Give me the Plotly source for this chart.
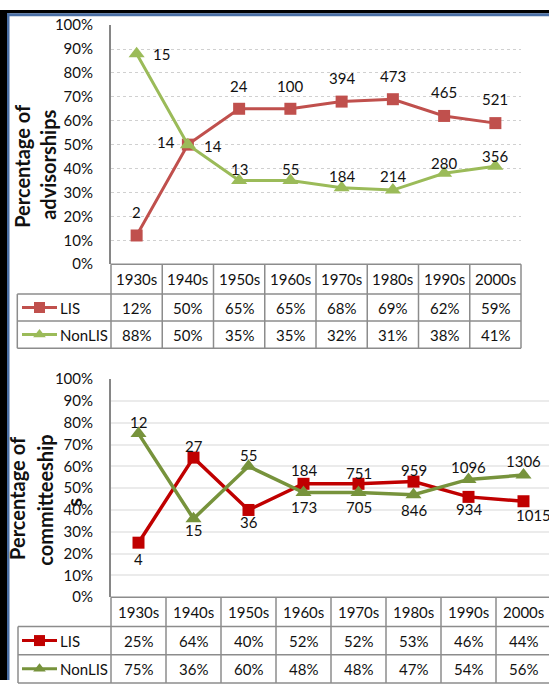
import plotly.graph_objects as go

# ---------------- data ----------------
decades = ["1930s", "1940s", "1950s", "1960s", "1970s", "1980s", "1990s", "2000s"]

adv_lis_pct = [12, 50, 65, 65, 68, 69, 62, 59]
adv_nonlis_pct = [88, 50, 35, 35, 32, 31, 38, 41]
adv_lis_n = [2, 14, 24, 100, 394, 473, 465, 521]
adv_nonlis_n = [15, 14, 13, 55, 184, 214, 280, 356]

com_lis_pct = [25, 64, 40, 52, 52, 53, 46, 44]
com_nonlis_pct = [75, 36, 60, 48, 48, 47, 54, 56]
com_lis_n = [4, 27, 36, 184, 751, 959, 934, 1015]
com_nonlis_n = [12, 15, 55, 173, 705, 846, 1096, 1306]

series_names = ["LIS", "NonLIS"]

# ---------------- style ----------------
W, H = 549, 688
FONT = "Lato"
TXT = "#111111"
GRID_LINE = "#8C8C8C"
TOP_COLORS = ["#C0504D", "#9BBB59"]
BOT_COLORS = ["#C00000", "#77933C"]
FS = 15

# label offsets (xshift, yshift) in px
adv_lis_off = [(0, 23), (-22, 3), (0, 23), (0, 23), (0, 24), (0, 23), (0, 24), (0, 24)]
adv_non_off = [(25, 0), (25, -1), (0, 11), (0, 11), (0, 12), (0, 14), (0, 10), (0, 10)]
com_lis_off = [(0, -16), (0, 12), (0, -12), (0, 14), (0, 11), (0, 12), (0, -12), (10, -14)]
com_non_off = [(0, 12), (0, -11), (0, 11), (0, -14), (0, -14), (0, -15), (0, 12), (0, 14)]


def X(px):
    return px / W


def Y(py):
    return 1 - py / H


# panel geometry (pixels)
top = dict(x0=111, x1=521, y0=15.5, y1=261, rows=[261, 291.7, 319.3, 347.3], leg_x0=17.3)
bot = dict(x0=111, x1=549, y0=379, y1=603, rows=[603, 633, 662, 691], leg_x0=18)
bot_colw = 55.0

fig = go.Figure()

n = len(decades)
idx = list(range(n))

# ---------- main traces ----------
def add_series(pcts, color, symbol, msize, lw, xa, ya, name):
    fig.add_trace(go.Scatter(
        x=idx, y=[p / 100 for p in pcts], mode="lines+markers", name=name,
        line=dict(color=color, width=lw),
        marker=dict(symbol=symbol, size=msize, color=color),
        xaxis=xa, yaxis=ya, showlegend=False, hoverinfo="skip", cliponaxis=False))


add_series(adv_lis_pct, TOP_COLORS[0], "square", 12, 3, "x", "y", "LIS")
add_series(adv_nonlis_pct, TOP_COLORS[1], "triangle-up", 14, 3, "x", "y", "NonLIS")
add_series(com_lis_pct, BOT_COLORS[0], "square", 12, 3.5, "x2", "y2", "LIS")
add_series(com_nonlis_pct, BOT_COLORS[1], "triangle-up", 14, 3.5, "x2", "y2", "NonLIS")

annotations = []


def note(**kw):
    kw.setdefault("showarrow", False)
    kw.setdefault("xanchor", "center")
    kw.setdefault("yanchor", "middle")
    annotations.append(kw)


# ---------- data labels ----------
def add_labels(counts, pcts, offs, xref, yref):
    for i, (c, p) in enumerate(zip(counts, pcts)):
        note(x=i, y=p / 100, xref=xref, yref=yref, text=str(c),
             xshift=offs[i][0], yshift=offs[i][1],
             font=dict(family=FONT, size=FS, color=TXT))


add_labels(adv_lis_n, adv_lis_pct, adv_lis_off, "x", "y")
add_labels(adv_nonlis_n, adv_nonlis_pct, adv_non_off, "x", "y")
add_labels(com_lis_n, com_lis_pct, com_lis_off, "x2", "y2")
add_labels(com_nonlis_n, com_nonlis_pct, com_non_off, "x2", "y2")

shapes = []
LW = 1.5


def hline(x0, x1, y, color=GRID_LINE, w=LW):
    shapes.append(dict(type="line", xref="paper", yref="paper", x0=X(x0), x1=X(x1),
                       y0=Y(y), y1=Y(y), line=dict(color=color, width=w), layer="above"))


def vline(x, y0, y1, color=GRID_LINE, w=LW):
    shapes.append(dict(type="line", xref="paper", yref="paper", x0=X(x), x1=X(x),
                       y0=Y(y0), y1=Y(y1), line=dict(color=color, width=w), layer="above"))


# ---------- data tables ----------
legend_pts_x, legend_pts_y, legend_syms, legend_cols = [], [], [], []


def add_table(g, colw, lis_pct, non_pct, colors, xref):
    r = g["rows"]
    right = g["x0"] + colw * n
    hline(g["x0"], right, r[0])
    for k in range(1, 4):
        hline(g["leg_x0"], right, r[k])
    for i in range(n + 1):
        vline(g["x0"] + colw * i, r[0], r[3])
    vline(g["leg_x0"], r[1], r[3])
    for i, d in enumerate(decades):
        note(x=i, y=Y((r[0] + r[1]) / 2), xref=xref, yref="paper", text=d,
             font=dict(family=FONT, size=FS, color=TXT))
    for row, vals in enumerate([lis_pct, non_pct]):
        yc = (r[row + 1] + r[row + 2]) / 2
        for i, v in enumerate(vals):
            note(x=i, y=Y(yc), xref=xref, yref="paper", text=f"{v}%",
                 font=dict(family=FONT, size=FS, color=TXT))
        hline(22, 57, yc, color=colors[row], w=3)
        legend_pts_x.append(39.5)
        legend_pts_y.append(yc)
        legend_syms.append("square" if row == 0 else "triangle-up")
        legend_cols.append(colors[row])
        note(x=X(58), y=Y(yc), xref="paper", yref="paper", text=series_names[row],
             xanchor="left", font=dict(family=FONT, size=FS, color=TXT))


add_table(top, (top["x1"] - top["x0"]) / n, adv_lis_pct, adv_nonlis_pct, TOP_COLORS, "x")
add_table(bot, bot_colw, com_lis_pct, com_nonlis_pct, BOT_COLORS, "x2")

# legend markers in pixel overlay axes
fig.add_trace(go.Scatter(
    x=legend_pts_x, y=legend_pts_y, mode="markers",
    marker=dict(symbol=legend_syms, size=11, color=legend_cols),
    xaxis="x3", yaxis="y3", showlegend=False, hoverinfo="skip", cliponaxis=False))

# ---------- axis titles ----------
def title_line(text, xc, yc):
    note(x=X(xc), y=Y(yc), xref="paper", yref="paper", text=text, textangle=-90,
         font=dict(family=FONT, size=20, color=TXT, weight="bold"))


title_line("Percentage of", 22, 160)
title_line("advisorships", 48, 159)
title_line("Percentage of", 17, 501)
title_line("committeeship", 45, 504)
title_line("s", 74, 506)

# ---------- frame ----------
shapes.append(dict(type="rect", xref="paper", yref="paper", x0=0, x1=X(7), y0=0, y1=1,
                   fillcolor="#000000", line=dict(width=0), layer="above"))
shapes.append(dict(type="rect", xref="paper", yref="paper", x0=0, x1=1, y0=Y(3.3), y1=1,
                   fillcolor="#000000", line=dict(width=0), layer="above"))
shapes.append(dict(type="rect", xref="paper", yref="paper", x0=X(7), x1=X(9.5), y0=0, y1=Y(3.3),
                   fillcolor="#4A6FA5", line=dict(width=0), layer="above"))
shapes.append(dict(type="rect", xref="paper", yref="paper", x0=X(7), x1=1, y0=Y(6.3), y1=Y(3.3),
                   fillcolor="#4A6FA5", line=dict(width=0), layer="above"))

# ---------- layout ----------
yaxis_common = dict(range=[0, 1], dtick=0.1, tickformat=".0%", ticks="",
                    showline=True, linecolor="#868686", linewidth=2, zeroline=False,
                    ticklabelstandoff=13, fixedrange=True,
                    tickfont=dict(family=FONT, size=FS, color=TXT))

fig.update_layout(
    width=W, height=H, margin=dict(l=0, r=0, t=0, b=0),
    paper_bgcolor="white", plot_bgcolor="rgba(0,0,0,0)",
    xaxis=dict(domain=[X(top["x0"]), X(top["x1"])], range=[-0.5, n - 0.5], visible=False,
               anchor="y", fixedrange=True),
    yaxis=dict(domain=[Y(top["y1"]), Y(top["y0"])], anchor="x", showgrid=True,
               gridcolor="#D0D0D0", gridwidth=1, griddash="dot", **yaxis_common),
    xaxis2=dict(domain=[X(bot["x0"]), 1], range=[-0.5, -0.5 + (bot["x1"] - bot["x0"]) / bot_colw],
                visible=False, anchor="y2", fixedrange=True),
    yaxis2=dict(domain=[Y(bot["y1"]), Y(bot["y0"])], anchor="x2", showgrid=True,
                gridcolor="#EBEBEB", gridwidth=1.5, **yaxis_common),
    xaxis3=dict(domain=[0, 1], range=[0, W], visible=False, anchor="y3", fixedrange=True),
    yaxis3=dict(domain=[0, 1], range=[H, 0], visible=False, anchor="x3", fixedrange=True),
    annotations=annotations,
    shapes=shapes,
    showlegend=False,
)

page_css = (
    "var de=document.documentElement,b=document.body;"
    "de.style.margin='0';de.style.padding='0';de.style.overflow='hidden';"
    "b.style.margin='0';b.style.padding='0';b.style.overflow='hidden';"
    "var gd=document.getElementById('{plot_id}');"
    "gd.style.position='fixed';gd.style.top='0px';gd.style.left='0px';"
)

fig.write_html("out.html", config={"displayModeBar": False}, post_script=page_css)
